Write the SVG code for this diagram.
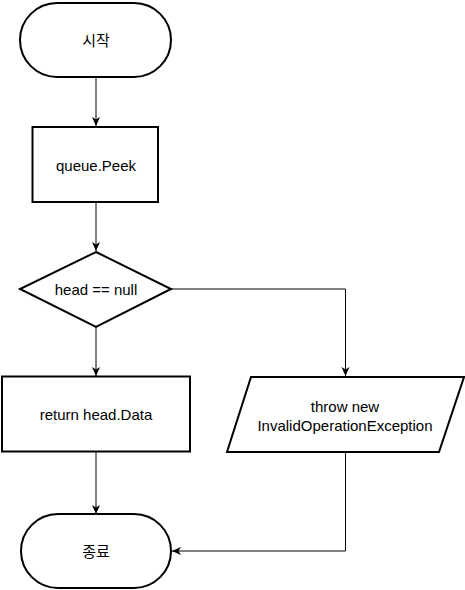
<svg xmlns="http://www.w3.org/2000/svg" width="465" height="590" viewBox="0 0 465 590">
<style>
.s{fill:#fff;stroke:#000;stroke-width:2}
.c{fill:none;stroke:#000;stroke-width:1}
.t{font-family:"Liberation Sans","Noto Sans CJK KR",Arial,sans-serif;font-size:15px;fill:#000;text-anchor:middle;dominant-baseline:central}
</style>
<defs>
<marker id="ah" markerUnits="userSpaceOnUse" markerWidth="10" markerHeight="10" refX="9" refY="5" orient="auto">
<path d="M0,1 L9,5 L0,9 L2.5,5 z" fill="#000"/>
</marker>
</defs>
<g id="connectors">
<line class="c" x1="96" y1="77" x2="96" y2="126" marker-end="url(#ah)"/>
<line class="c" x1="96" y1="202" x2="96" y2="251" marker-end="url(#ah)"/>
<line class="c" x1="96" y1="327" x2="96" y2="376" marker-end="url(#ah)"/>
<line class="c" x1="96" y1="451" x2="96" y2="514" marker-end="url(#ah)"/>
<polyline class="c" points="171,289 345.5,289 345.5,376" marker-end="url(#ah)"/>
<polyline class="c" points="345.5,452 345.5,551 172,551" marker-end="url(#ah)"/>
</g>
<g id="start">
<rect class="s" x="20" y="3" width="151" height="74" rx="37" ry="37"/>
<text class="t" x="96" y="40">시작</text>
</g>
<g id="peek">
<rect class="s" x="32.5" y="127" width="125.5" height="75"/>
<text class="t" x="96" y="165">queue.Peek</text>
</g>
<g id="decision">
<polygon class="s" points="96,252 171,289 96,327 20,289"/>
<text class="t" x="96" y="289">head == null</text>
</g>
<g id="return">
<rect class="s" x="2" y="376.5" width="188" height="75"/>
<text class="t" x="96" y="414">return head.Data</text>
</g>
<g id="throw">
<polygon class="s" points="251,377 464,377 439,452 227,452"/>
<text class="t" x="345" y="406">throw new</text>
<text class="t" x="345" y="425">InvalidOperationException</text>
</g>
<g id="end">
<rect class="s" x="21" y="514" width="150" height="74" rx="37" ry="37"/>
<text class="t" x="96" y="551">종료</text>
</g>
</svg>
